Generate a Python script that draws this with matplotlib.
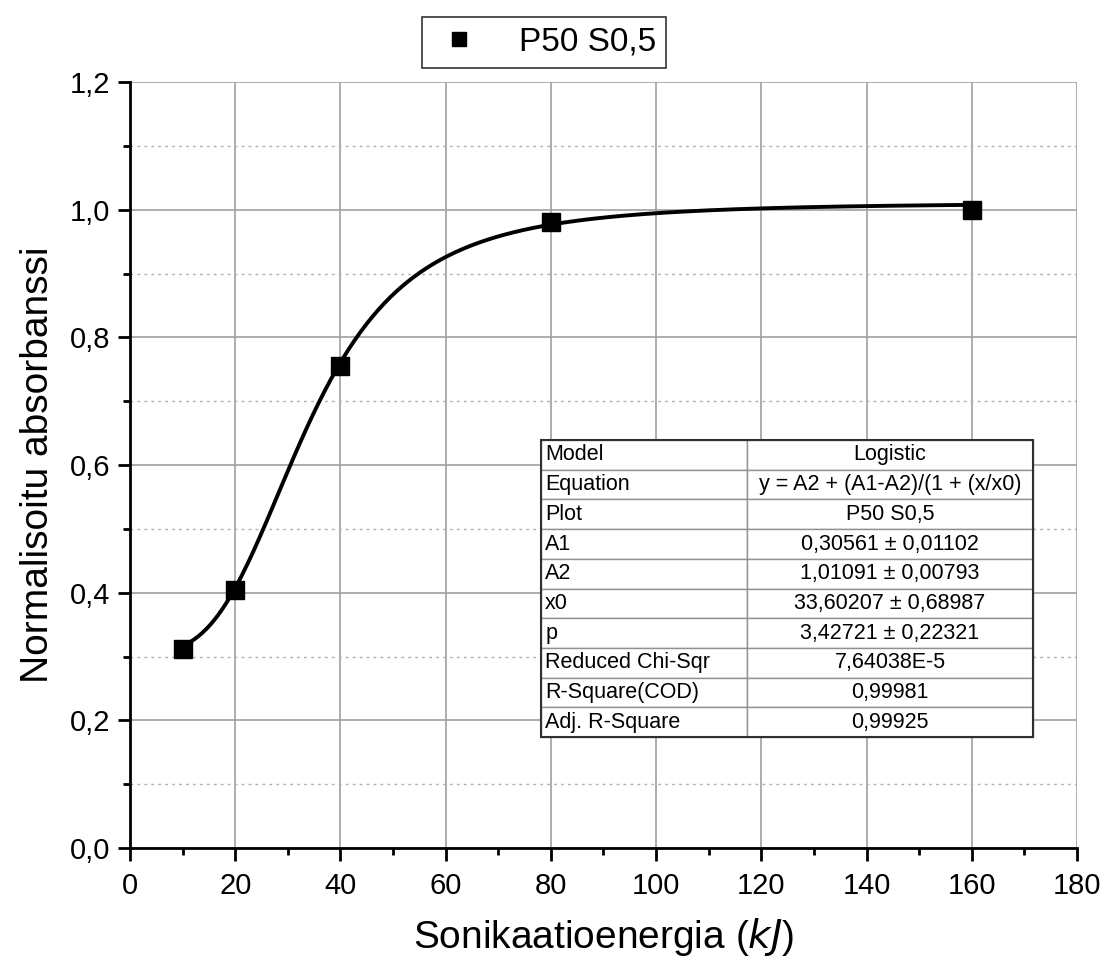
import numpy as np
import matplotlib.pyplot as plt
from matplotlib.ticker import MultipleLocator, FuncFormatter

plt.rcParams['font.family'] = ['Liberation Sans', 'DejaVu Sans']

# measured points
energy = [10, 20, 40, 80, 160]
absorb = [0.312, 0.404, 0.755, 0.981, 1.0]

# logistic fit parameters (from the table)
A1, A2, x0, p = 0.30561, 1.01091, 33.60207, 3.42721

table_rows = [
    ['Model', 'Logistic'],
    ['Equation', 'y = A2 + (A1-A2)/(1 + (x/x0)'],
    ['Plot', 'P50 S0,5'],
    ['A1', '0,30561 \u00b1 0,01102'],
    ['A2', '1,01091 \u00b1 0,00793'],
    ['x0', '33,60207 \u00b1 0,68987'],
    ['p', '3,42721 \u00b1 0,22321'],
    ['Reduced Chi-Sqr', '7,64038E-5'],
    ['R-Square(COD)', '0,99981'],
    ['Adj. R-Square', '0,99925'],
]

fig = plt.figure(figsize=(11.11, 9.65), dpi=100)
ax = fig.add_axes([0.117, 0.1212, 0.8524, 0.7938])

# fitted curve
xs = np.linspace(energy[0], energy[-1], 400)
ys = A2 + (A1 - A2) / (1 + (xs / x0) ** p)
ax.plot(xs, ys, color='black', lw=2.8, zorder=3)
ax.plot(energy, absorb, 's', color='black', ms=13, zorder=4, label='P50 S0,5')

ax.set_xlim(0, 180)
ax.set_ylim(0, 1.2)
ax.xaxis.set_major_locator(MultipleLocator(20))
ax.xaxis.set_minor_locator(MultipleLocator(10))
ax.yaxis.set_major_locator(MultipleLocator(0.2))
ax.yaxis.set_minor_locator(MultipleLocator(0.1))
ax.yaxis.set_major_formatter(FuncFormatter(lambda v, pos: f'{v:.1f}'.replace('.', ',')))

ax.grid(which='major', color='#a0a0a0', lw=1.2)
ax.grid(which='minor', axis='y', color='#b0b0b0', lw=1, ls=(0, (2, 3)))
ax.set_axisbelow(True)

for s in ['top', 'right']:
    ax.spines[s].set_visible(False)
for s in ['left', 'bottom']:
    ax.spines[s].set_linewidth(2)
ax.tick_params(which='major', direction='out', length=9, width=2, labelsize=21, pad=5)
ax.tick_params(axis='x', which='major', pad=8)
ax.tick_params(which='minor', direction='out', length=5, width=2)

ax.set_xlabel('Sonikaatioenergia ($\\it{kJ}$)', fontsize=28, labelpad=12)
ax.set_ylabel('Normalisoitu absorbanssi', fontsize=28, labelpad=10)

leg = fig.legend(loc='center', bbox_to_anchor=(0.4896, 0.956), fontsize=24,
                 frameon=True, fancybox=False, edgecolor='black', handletextpad=1.0,
                 borderpad=0.3, markerscale=0.8, handlelength=1.6)
leg.get_frame().set_linewidth(1.2)

tbl = ax.table(cellText=table_rows, colWidths=[0.419, 0.581], cellLoc='center',
               bbox=[0.434, 0.1449, 0.5195, 0.3877], zorder=5)
tbl.auto_set_font_size(False)
for (r, c), cell in tbl.get_celld().items():
    cell.set_edgecolor('#909090')
    cell.set_linewidth(1)
    cell.set_facecolor('white')
    cell.get_text().set_fontsize(15.5)
    if c == 0:
        cell.get_text().set_ha('left')
        cell.PAD = 0.02
tbl_border = plt.Rectangle((0.434, 0.1449), 0.5195, 0.3877, transform=ax.transAxes,
                           fill=False, ec='#303030', lw=1.5, zorder=6)
ax.add_patch(tbl_border)

fig.savefig('out.png', dpi=100)
